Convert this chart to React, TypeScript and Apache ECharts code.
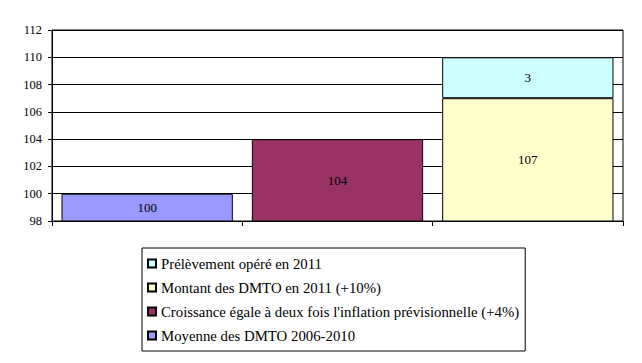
import React, { useEffect, useRef } from "react";
import * as echarts from "echarts";

const categories = ["A", "B", "C"];
const seriesNames = [
  "Moyenne des DMTO 2006-2010",
  "Croissance égale à deux fois l'inflation prévisionnelle (+4%)",
  "Montant des DMTO en 2011 (+10%)",
  "Prélèvement opéré en 2011",
];
const moyenne = [100, "-", "-"];
const croissance = ["-", 104, "-"];
const montant = ["-", "-", 107];
const prelevement = ["-", "-", 3];
const colors = ["#9999FF", "#993366", "#FFFFCC", "#CCFFFF"];
const yTicks = { min: 98, max: 112, interval: 2 };

const FONT = "Liberation Serif";

export default function App() {
  const ref = useRef<HTMLDivElement>(null);
  useEffect(() => {
    document.body.style.margin = "0";
    const chart = echarts.init(ref.current!, null, { renderer: "svg" });
    const values = [moyenne, croissance, montant, prelevement];
    chart.setOption({
      animation: false,
      backgroundColor: "#fff",
      textStyle: { fontFamily: FONT },
      grid: {
        left: 52,
        right: 19,
        top: 30,
        bottom: 142,
        show: true,
        borderColor: "#000",
        borderWidth: 1,
      },
      xAxis: {
        type: "category",
        data: categories,
        axisLine: { lineStyle: { color: "#000", width: 1 } },
        axisTick: { show: true, interval: 0, length: 5, lineStyle: { color: "#000" } },
        axisLabel: { show: false },
      },
      yAxis: {
        type: "value",
        min: yTicks.min,
        max: yTicks.max,
        interval: yTicks.interval,
        axisLine: { show: true, lineStyle: { color: "#000", width: 1 } },
        axisTick: { show: true, length: 4, lineStyle: { color: "#000" } },
        axisLabel: { color: "#000", fontFamily: FONT, fontSize: 12.5, margin: 10 },
        splitLine: { lineStyle: { color: "#000", width: 1 } },
      },
      legend: {
        orient: "vertical",
        left: 142,
        top: 248,
        data: [...seriesNames].reverse(),
        icon: "rect",
        itemWidth: 8,
        itemHeight: 8,
        itemGap: 9,
        padding: [8, 6, 8, 5],
        borderColor: "#000",
        borderWidth: 1,
        textStyle: { color: "#000", fontFamily: FONT, fontSize: 14.8, lineHeight: 14 },
      },
      series: seriesNames.map((name, i) => ({
        name,
        type: "bar",
        stack: "total",
        data: values[i],
        barWidth: "90%",
        itemStyle: { color: colors[i], borderColor: "#000", borderWidth: 1 },
        label: {
          show: true,
          position: "inside",
          color: "#000",
          fontFamily: FONT,
          fontSize: 13,
        },
      })),
    });
    return () => chart.dispose();
  }, []);
  return <div ref={ref} style={{ width: 642, height: 363 }} />;
}
